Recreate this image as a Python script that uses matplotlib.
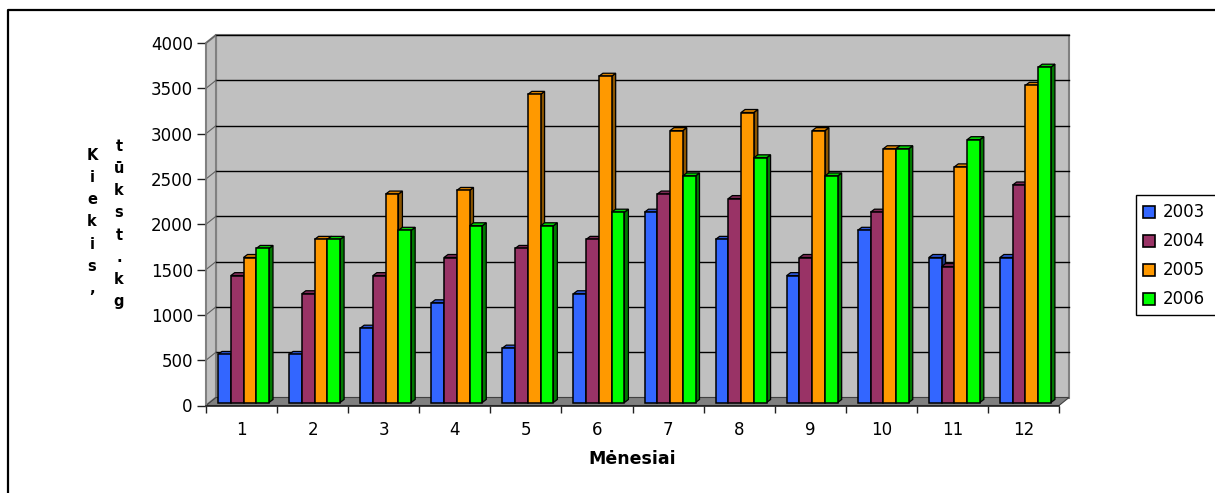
import matplotlib
matplotlib.use("Agg")
import matplotlib.pyplot as plt
from matplotlib.patches import Rectangle, Polygon

# monthly amounts, thousand kg
months = [str(m) for m in range(1, 13)]
years = ["2003", "2004", "2005", "2006"]
v2003 = [530, 530, 820, 1100, 600, 1200, 2100, 1800, 1400, 1900, 1600, 1600]
v2004 = [1400, 1200, 1400, 1600, 1700, 1800, 2300, 2250, 1600, 2100, 1500, 2400]
v2005 = [1600, 1800, 2300, 2340, 3400, 3600, 3000, 3200, 3000, 2800, 2600, 3500]
v2006 = [1700, 1800, 1900, 1950, 1950, 2100, 2500, 2700, 2500, 2800, 2900, 3700]
series = [v2003, v2004, v2005, v2006]

front_col = ["#3366FF", "#993366", "#FF9900", "#00FF00"]
top_col = ["#2B55D6", "#7D2A55", "#D98200", "#00D000"]
side_col = ["#1A3380", "#4D1A33", "#8C5500", "#007A00"]

W, H = 1215, 493
fig = plt.figure(figsize=(W / 100, H / 100), dpi=100)

# overlay in pixel coordinates for frame, legend and axis title
ov = fig.add_axes([0, 0, 1, 1])
ov.set_xlim(0, W)
ov.set_ylim(H, 0)
ov.axis("off")

# plot area (front plane of the 3d box)
x0, x1, y0, y1 = 206, 1059, 405.5, 43
ax = fig.add_axes([x0 / W, (H - y0) / H, (x1 - x0) / W, (y0 - y1) / H])
ax.set_xlim(0, 12)
ax.set_ylim(0, 4000)
ax.patch.set_visible(False)

px_x = (x1 - x0) / 12.0
px_y = (y0 - y1) / 4000.0
DX, DY = 10 / px_x, 8 / px_y          # depth of the box
BX, BY = 4 / px_x, 3 / px_y           # depth of a bar
OFF_X, OFF_Y = 12 / px_x, 3 / px_y    # bar front plane shift
BW = 12.75 / px_x

# walls and floor
ax.add_patch(Rectangle((DX, DY), 12, 4000, facecolor="#C0C0C0",
                       edgecolor="#808080", lw=1.5, zorder=0, clip_on=False))
ax.add_patch(Polygon([(0, 0), (DX, DY), (DX, 4000 + DY), (0, 4000)],
                     closed=True, facecolor="#C0C0C0", edgecolor="#808080",
                     lw=1.5, zorder=0, clip_on=False))
ax.add_patch(Polygon([(0, 0), (12, 0), (12 + DX, DY), (DX, DY)], closed=True,
                     facecolor="#808080", edgecolor="#404040", lw=0.8,
                     zorder=0.5, clip_on=False))
for v in range(500, 4001, 500):
    ax.plot([DX, 12 + DX], [v + DY, v + DY], color="black", lw=1,
            zorder=0.6, clip_on=False)
    ax.plot([0, DX], [v, v + DY], color="#606060", lw=0.8,
            zorder=0.6, clip_on=False)

# 3d bars
for c in range(12):
    for i, vals in enumerate(series):
        x = c + OFF_X + i * BW
        b, t = OFF_Y, vals[c] + OFF_Y
        z = 2 + c * 0.01 + i * 0.001
        ax.add_patch(Polygon([(x + BW, b), (x + BW + BX, b + BY),
                              (x + BW + BX, t + BY), (x + BW, t)], closed=True,
                             facecolor=side_col[i], edgecolor="black", lw=0.9,
                             zorder=z, clip_on=False))
        ax.add_patch(Polygon([(x, t), (x + BW, t), (x + BW + BX, t + BY),
                              (x + BX, t + BY)], closed=True,
                             facecolor=top_col[i], edgecolor="black", lw=0.9,
                             zorder=z, clip_on=False))
        ax.add_patch(Rectangle((x, b), BW, vals[c], facecolor=front_col[i],
                               edgecolor="black", lw=1.1, zorder=z,
                               clip_on=False))

# axes
for s in ["top", "right"]:
    ax.spines[s].set_visible(False)
ax.spines["left"].set_color("#808080")
ax.spines["left"].set_linewidth(1.2)
ax.spines["bottom"].set_color("#202020")
ax.spines["bottom"].set_linewidth(1.2)
ax.spines["bottom"].set_zorder(3)

ax.set_yticks(range(0, 4001, 500))
ax.tick_params(axis="y", length=6.5, width=1, pad=3, labelsize=12,
               color="#202020")
ax.set_xticks(range(0, 13))
ax.set_xticklabels([])
ax.tick_params(axis="x", which="major", length=5, width=1, color="#202020")
ax.set_xticks([c + 0.5 for c in range(12)], months, minor=True)
ax.tick_params(axis="x", which="minor", length=0, pad=11, labelsize=12)

# axis titles
ov.text(632, 459, "Mėnesiai", ha="center", va="center", fontsize=12.5,
        fontweight="bold")
ov.text(92, 222, "\n".join("Kiekis,"), ha="center", va="center",
        multialignment="center", fontsize=10.5, fontweight="bold",
        linespacing=1.6)
ov.text(119, 224, "\n".join("tūkst.kg"), ha="center", va="center",
        multialignment="center", fontsize=10.5, fontweight="bold",
        linespacing=1.6)

# legend
ov.add_patch(Rectangle((1136, 195), 100, 120, facecolor="white",
                       edgecolor="black", lw=1))
for i, y in enumerate(years):
    yc = 212 + i * 29
    ov.add_patch(Rectangle((1143, yc - 6), 12, 12, facecolor=front_col[i],
                           edgecolor="black", lw=1.2))
    ov.text(1163, yc, y, ha="left", va="center", fontsize=12)

# chart frame
ov.plot([8, 8, W + 5], [H + 5, 10, 10], color="black", lw=1.6)

fig.savefig("out.png", dpi=100)
